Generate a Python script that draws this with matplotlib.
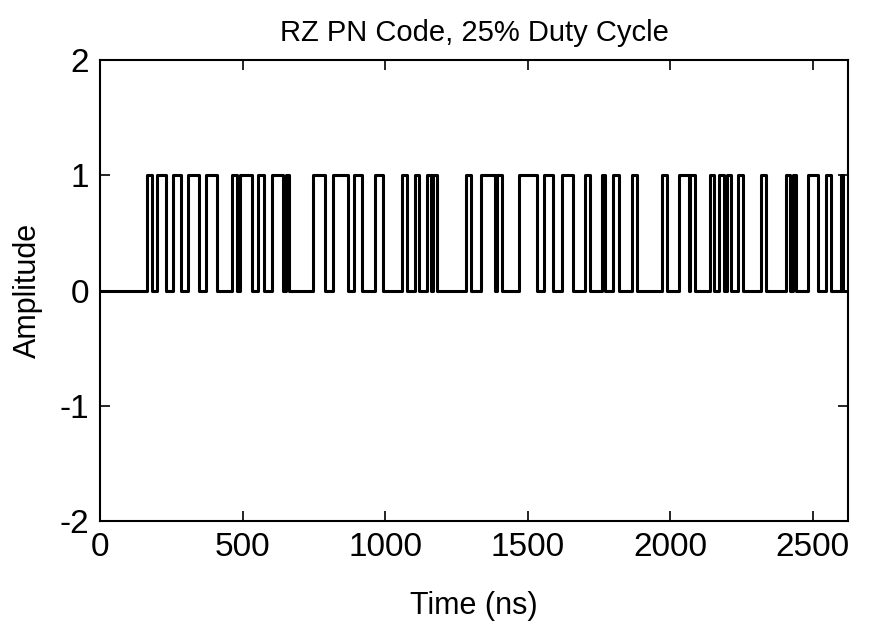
import numpy as np
import matplotlib
matplotlib.use("Agg")
import matplotlib.pyplot as plt
from matplotlib import font_manager

# pulse start / end times (ns)
pulse_start = [165, 200, 256, 309, 372, 463, 491, 554, 604, 653,
               747, 818, 891, 965, 1060, 1105, 1147, 1168, 1284, 1337,
               1393, 1470, 1558, 1621, 1702, 1761, 1800, 1867, 1972, 2032,
               2070, 2140, 2172, 2200, 2239, 2319, 2407, 2432, 2484, 2547,
               2600]
pulse_end = [182, 232, 284, 347, 411, 481, 533, 575, 642, 663,
             789, 870, 919, 993, 1077, 1119, 1161, 1183, 1302, 1386,
             1411, 1533, 1590, 1660, 1719, 1772, 1821, 1884, 1989, 2067,
             2088, 2154, 2190, 2214, 2256, 2337, 2421, 2442, 2519, 2565,
             2607]
t_max = 2625

x_ticks = [0, 500, 1000, 1500, 2000, 2500]
y_ticks = [-2, -1, 0, 1, 2]

# pick a narrow sans if one is there
names = {f.name for f in font_manager.fontManager.ttflist}
if "Liberation Sans Narrow" in names:
    plt.rcParams['font.family'] = ['Liberation Sans Narrow', 'DejaVu Sans']
else:
    plt.rcParams['font.family'] = ['Liberation Sans', 'DejaVu Sans']
plt.rcParams['axes.unicode_minus'] = False

# build the RZ waveform from the pulse list
t = [0]
a = [0]
for s, e in zip(pulse_start, pulse_end):
    t += [s, s, e, e]
    a += [0, 1, 1, 0]
t.append(t_max)
a.append(0)

fig = plt.figure(figsize=(8.71, 6.41), dpi=100)
ax = fig.add_axes([0.115, 0.187, 0.859, 0.719])

ax.plot(t, a, color='black', lw=2.2)

ax.set_xlim(0, t_max)
ax.set_ylim(-2, 2)
ax.set_xticks(x_ticks)
ax.set_yticks(y_ticks)
ax.tick_params(direction='in', length=7, width=1.2, top=True, right=True,
               labelsize=24, pad=8)
for sp in ax.spines.values():
    sp.set_linewidth(1.5)

ax.set_title('RZ PN Code, 25% Duty Cycle', fontsize=21, pad=14)
ax.set_xlabel('Time (ns)', fontsize=22, labelpad=20)
ax.set_ylabel('Amplitude', fontsize=22, labelpad=12)

fig.savefig('out.png', dpi=100)
